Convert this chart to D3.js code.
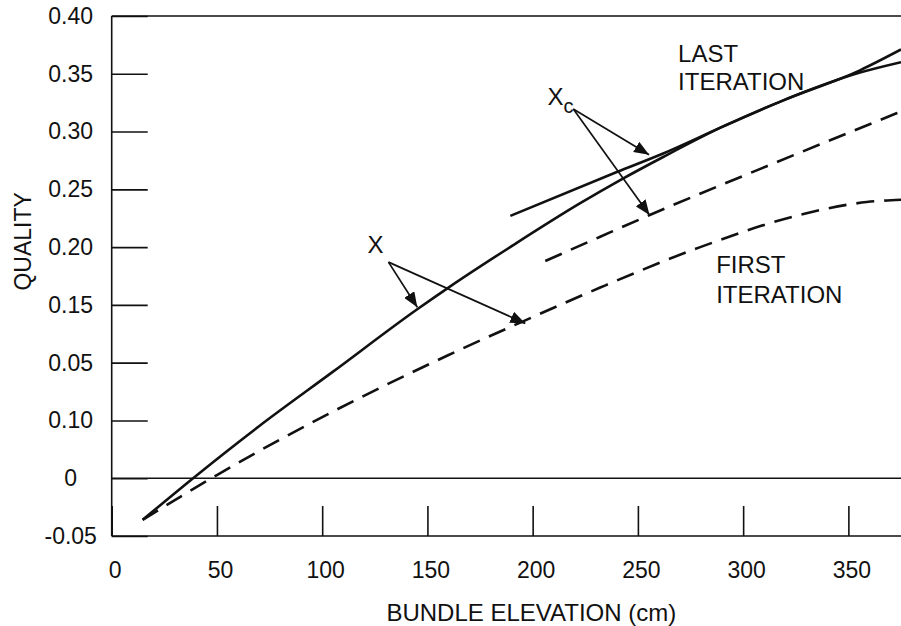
<!DOCTYPE html>
<html>
<head>
<meta charset="utf-8">
<script src="https://d3js.org/d3.v7.min.js"></script>
<style>
    body { margin: 0; background: #fff; }
    text { font-family: "Liberation Sans", Arial, sans-serif; fill: #111; }
</style>
</head>
<body>
<svg id="drawing_region"></svg>
<script>
// tick values / labels (the y labels are printed in this order on the original)
const xTicks = [0, 50, 100, 150, 200, 250, 300, 350];
const yTicks = [-0.05, 0, 0.05, 0.10, 0.15, 0.20, 0.25, 0.30, 0.35, 0.40];
const yTickLabels = ['-0.05', '0', '0.10', '0.05', '0.15', '0.20', '0.25', '0.30', '0.35', '0.40'];

// last iteration, quality X (solid)
const lastX_elev = [14.7, 40.0, 70.0, 105.0, 145.0, 160.0, 191.0, 222.6, 241.6, 262.0, 290.0, 319.1, 355.5, 375];
const lastX_qual = [-0.036, 0.002, 0.045, 0.092, 0.146, 0.165, 0.202, 0.238, 0.258, 0.278, 0.304, 0.327, 0.351, 0.360];

// last iteration, Xc (solid)
const lastXc_elev = [189.4, 240.0, 262.0, 290.0, 319.1, 355.5, 375];
const lastXc_qual = [0.227, 0.265, 0.281, 0.304, 0.327, 0.353, 0.371];

// first iteration, quality X (dashed)
const firstX_elev = [14.7, 50.2, 105.4, 134.0, 159.3, 195.7, 232.1, 279.6, 327.1, 358.7, 375];
const firstX_qual = [-0.036, 0.003, 0.058, 0.084, 0.106, 0.136, 0.165, 0.200, 0.228, 0.239, 0.241];

// first iteration, Xc (dashed)
const firstXc_elev = [206.0, 232.1, 255.9, 311.2, 374.5];
const firstXc_qual = [0.188, 0.209, 0.228, 0.270, 0.317];


class QualityChart {
    constructor(config, series) {
        this.config = {
            parent: config.parent,
            width: config.width || 901,
            height: config.height || 626,
            margin: config.margin || { top: 10, right: 10, bottom: 10, left: 10 }
        }
        this.series = series;
        this.init();
    }

    init() {
        let self = this;

        self.svg = d3.select(self.config.parent)
            .attr('width', self.config.width)
            .attr('height', self.config.height);

        self.chart = self.svg.append('g')
            .attr('transform', `translate(${self.config.margin.left},${self.config.margin.top})`);

        self.inner_width = self.config.width - self.config.margin.left - self.config.margin.right;
        self.inner_height = self.config.height - self.config.margin.top - self.config.margin.bottom;

        self.xscale = d3.scaleLinear()
            .domain([0, 375])
            .range([0, self.inner_width]);

        self.yscale = d3.scaleLinear()
            .domain([-0.05, 0.40])
            .range([self.inner_height, 0]);

        self.xaxis = d3.axisBottom(self.xscale)
            .tickValues(xTicks)
            .tickSize(-30)
            .tickSizeOuter(0)
            .tickPadding(26);

        self.yaxis = d3.axisLeft(self.yscale)
            .tickValues(yTicks)
            .tickFormat((d, i) => yTickLabels[i])
            .tickSize(-36)
            .tickSizeOuter(0);

        self.svg.append('defs').append('marker')
            .attr('id', 'head')
            .attr('markerUnits', 'userSpaceOnUse')
            .attr('viewBox', '0 0 15 12')
            .attr('markerWidth', 15)
            .attr('markerHeight', 12)
            .attr('refX', 15)
            .attr('refY', 6)
            .attr('orient', 'auto')
            .append('path')
            .attr('d', 'M0,0 L15,6 L0,12 Z')
            .attr('fill', '#111');
    }

    render() {
        let self = this;
        const x = self.xscale, y = self.yscale;

        // axes
        const xg = self.chart.append('g')
            .attr('transform', `translate(0, ${self.inner_height})`)
            .call(self.xaxis);
        xg.select('.domain').remove();
        xg.selectAll('.tick line').attr('stroke', '#111').attr('stroke-width', 1.6);
        xg.selectAll('.tick text')
            .attr('font-size', 23).attr('font-family', '"Liberation Sans", Arial, sans-serif')
            .attr('dx', 3).attr('fill', '#111');

        const yg = self.chart.append('g').call(self.yaxis);
        yg.select('.domain').remove();
        yg.selectAll('.tick line').attr('stroke', '#111').attr('stroke-width', 1.6);
        yg.selectAll('.tick text')
            .attr('font-size', 23).attr('font-family', '"Liberation Sans", Arial, sans-serif')
            .attr('text-anchor', 'middle').attr('x', -41).attr('fill', '#111');

        // frame: left, top, bottom and the zero line
        const frame = [
            [[0, -0.05], [0, 0.40]],
            [[0, 0.40], [375, 0.40]],
            [[0, -0.05], [375, -0.05]],
            [[0, 0], [375, 0]]
        ];
        self.chart.selectAll('.frame').data(frame).enter()
            .append('line')
            .attr('x1', d => x(d[0][0])).attr('y1', d => y(d[0][1]))
            .attr('x2', d => x(d[1][0])).attr('y2', d => y(d[1][1]))
            .attr('stroke', '#111').attr('stroke-width', 1.6);

        // curves
        const line = d3.line()
            .x(d => x(d[0]))
            .y(d => y(d[1]))
            .curve(d3.curveMonotoneX);

        self.chart.selectAll('.curve').data(self.series).enter()
            .append('path')
            .attr('d', s => line(d3.zip(s.elev, s.qual)))
            .attr('fill', 'none')
            .attr('stroke', '#111')
            .attr('stroke-width', 2.6)
            .attr('stroke-dasharray', s => s.dashed ? '18,10' : null);

        // annotation arrows
        const arrows = [
            [[131.5, 0.187], [145.2, 0.148]],
            [[131.5, 0.187], [196.5, 0.134]],
            [[219.3, 0.3195], [255.3, 0.2800]],
            [[219.3, 0.3195], [255.5, 0.2278]]
        ];
        self.chart.selectAll('.arrow').data(arrows).enter()
            .append('line')
            .attr('x1', d => x(d[0][0])).attr('y1', d => y(d[0][1]))
            .attr('x2', d => x(d[1][0])).attr('y2', d => y(d[1][1]))
            .attr('stroke', '#111').attr('stroke-width', 1.7)
            .attr('marker-end', 'url(#head)');

        // labels
        const labels = [
            { t: 'X', e: 125.3, q: 0.195, anchor: 'middle' },
            { t: 'LAST', e: 269.1, q: 0.3605, anchor: 'start' },
            { t: 'ITERATION', e: 269.1, q: 0.336, anchor: 'start' },
            { t: 'FIRST', e: 287.2, q: 0.1776, anchor: 'start' },
            { t: 'ITERATION', e: 287.2, q: 0.1519, anchor: 'start' }
        ];
        self.chart.selectAll('.label').data(labels).enter()
            .append('text')
            .attr('x', d => x(d.e)).attr('y', d => y(d.q))
            .attr('text-anchor', d => d.anchor)
            .attr('font-size', 24)
            .text(d => d.t);

        const xc = self.chart.append('text')
            .attr('x', x(207)).attr('y', y(0.323))
            .attr('font-size', 24);
        xc.append('tspan').text('X');
        xc.append('tspan').attr('font-size', 20).attr('dy', 8).text('c');

        // axis titles
        self.svg.append('text')
            .attr('transform', `translate(31, ${self.config.margin.top + y(0.205)}) rotate(-90)`)
            .attr('text-anchor', 'middle')
            .attr('font-size', 23)
            .text('QUALITY');

        self.svg.append('text')
            .attr('x', self.config.margin.left + self.inner_width / 2 + 25)
            .attr('y', 621)
            .attr('text-anchor', 'middle')
            .attr('font-size', 24)
            .text('BUNDLE ELEVATION (cm)');
    }
}

const series = [
    { elev: lastX_elev, qual: lastX_qual, dashed: false },
    { elev: lastXc_elev, qual: lastXc_qual, dashed: false },
    { elev: firstX_elev, qual: firstX_qual, dashed: true },
    { elev: firstXc_elev, qual: firstXc_qual, dashed: true }
];

const config = {
    parent: '#drawing_region',
    width: 901,
    height: 626,
    margin: { top: 16, right: 0, bottom: 90, left: 111.7 }
};

const chart = new QualityChart(config, series);
chart.render();
</script>
</body>
</html>
